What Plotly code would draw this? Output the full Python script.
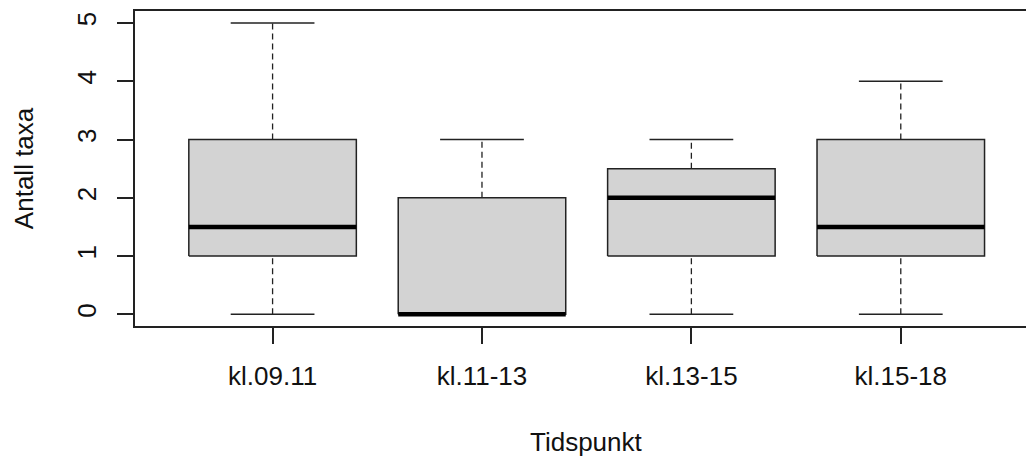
import plotly.graph_objects as go

categories = ["kl.09.11", "kl.11-13", "kl.13-15", "kl.15-18"]
lower_whisker = [0, 0, 0, 0]
q1 = [1, 0, 1, 1]
median = [1.5, 0, 2, 1.5]
q3 = [3, 2, 2.5, 3]
upper_whisker = [5, 3, 3, 4]
y_ticks = [0, 1, 2, 3, 4, 5]

BOX_HALF = 0.4
CAP_HALF = 0.2
LINE = "#222222"
FILL = "#D3D3D3"
FONT = "Liberation Sans, Arial, sans-serif"
FS = 26

fig = go.Figure()
for i, cat in enumerate(categories):
    x = i + 1
    # dashed whiskers
    fig.add_trace(go.Scatter(x=[x, x], y=[q3[i], upper_whisker[i]], mode="lines",
                             line=dict(color=LINE, width=1.3, dash="6px,4px"), hoverinfo="skip"))
    fig.add_trace(go.Scatter(x=[x, x], y=[lower_whisker[i], q1[i]], mode="lines",
                             line=dict(color=LINE, width=1.3, dash="6px,4px"), hoverinfo="skip"))
    # caps
    for yv in (upper_whisker[i], lower_whisker[i]):
        fig.add_trace(go.Scatter(x=[x - CAP_HALF, x + CAP_HALF], y=[yv, yv], mode="lines",
                                 line=dict(color=LINE, width=1.5), hoverinfo="skip"))
    # box
    fig.add_trace(go.Scatter(
        x=[x - BOX_HALF, x + BOX_HALF, x + BOX_HALF, x - BOX_HALF, x - BOX_HALF],
        y=[q1[i], q1[i], q3[i], q3[i], q1[i]],
        mode="lines", fill="toself", fillcolor=FILL,
        line=dict(color=LINE, width=1.5), hoverinfo="skip"))
    # median
    fig.add_trace(go.Scatter(x=[x - BOX_HALF, x + BOX_HALF], y=[median[i], median[i]], mode="lines",
                             line=dict(color="#000000", width=4.5), hoverinfo="skip"))

fig.update_layout(
    width=1026, height=458,
    margin=dict(l=135, r=0, t=11, b=132),
    paper_bgcolor="white", plot_bgcolor="white",
    showlegend=False,
    font=dict(family=FONT, size=FS, color="#111111"),
)
fig.update_xaxes(
    range=[0.343, 4.598], tickmode="array", tickvals=[1, 2, 3, 4], ticktext=categories,
    showgrid=False, zeroline=False,
    showline=True, mirror=True, linecolor=LINE, linewidth=1.5,
    ticks="outside", ticklen=16, tickwidth=1.5, tickcolor=LINE,
    tickfont=dict(size=FS), ticklabelstandoff=10,
)
fig.update_yaxes(
    range=[-0.2, 5.206], tickmode="array", tickvals=y_ticks, ticktext=[str(v) for v in y_ticks],
    showgrid=False, zeroline=False,
    showline=True, linecolor=LINE, linewidth=1.5,
    ticks="outside", ticklen=16, tickwidth=1.5, tickcolor=LINE,
    tickangle=-90, tickfont=dict(size=FS), ticklabelstandoff=11,
)
fig.add_annotation(text="Antall taxa", xref="paper", yref="paper", x=-0.125, y=0.5,
                   showarrow=False, textangle=-90, font=dict(size=FS), xanchor="center", yanchor="middle")
fig.add_annotation(text="Tidspunkt", x=2.5, xref="x", yref="paper", y=-0.368,
                   showarrow=False, font=dict(size=FS), xanchor="center", yanchor="middle")

fig.write_html("out.html")
